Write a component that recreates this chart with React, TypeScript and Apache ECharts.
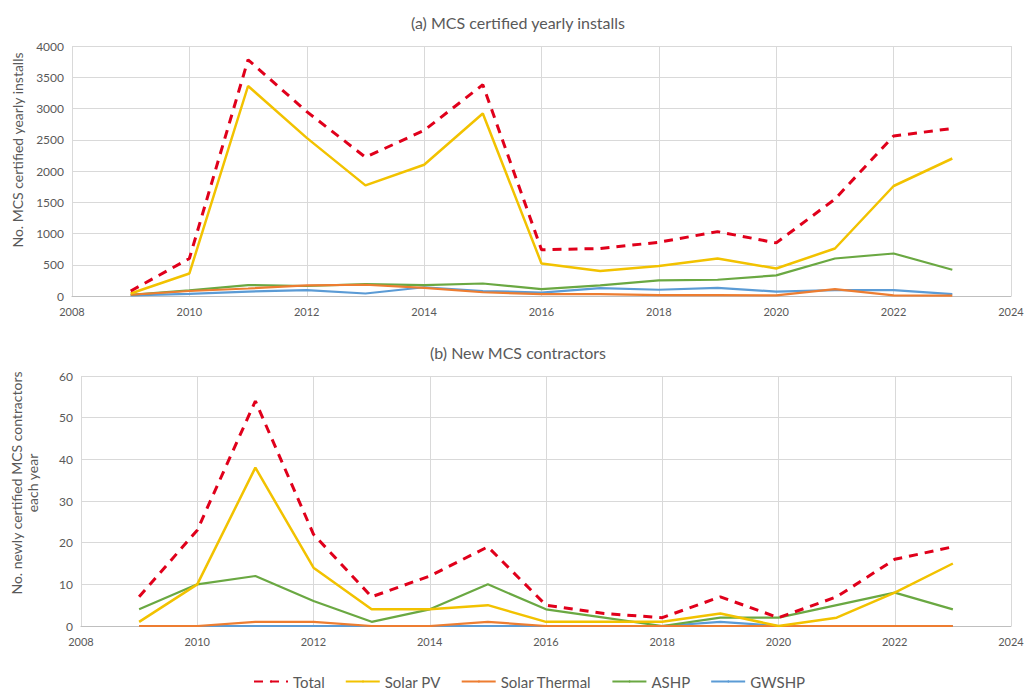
import React, { useEffect, useRef } from "react";
import * as echarts from "echarts";

// Years shared by both panels
const years = [2009, 2010, 2011, 2012, 2013, 2014, 2015, 2016, 2017, 2018, 2019, 2020, 2021, 2022, 2023];

// (a) MCS certified yearly installs
const installsTotal = [80, 600, 3780, 2950, 2220, 2650, 3380, 740, 760, 860, 1030, 850, 1550, 2560, 2680];
const installsSolarPV = [40, 360, 3360, 2530, 1770, 2100, 2920, 520, 400, 480, 600, 440, 760, 1760, 2200];
const installsSolarThermal = [20, 80, 120, 170, 180, 130, 60, 30, 30, 15, 15, 10, 110, 10, 5];
const installsASHP = [20, 90, 175, 160, 190, 175, 200, 110, 170, 250, 260, 330, 600, 680, 420];
const installsGWSHP = [10, 35, 70, 95, 40, 140, 80, 55, 125, 100, 130, 70, 95, 95, 30];

// (b) New MCS contractors
const contractorsTotal = [7, 23, 54, 22, 7, 12, 19, 5, 3, 2, 7, 2, 7, 16, 19];
const contractorsSolarPV = [1, 10, 38, 14, 4, 4, 5, 1, 1, 1, 3, 0, 2, 8, 15];
const contractorsSolarThermal = [0, 0, 1, 1, 0, 0, 1, 0, 0, 0, 0, 0, 0, 0, 0];
const contractorsASHP = [4, 10, 12, 6, 1, 4, 10, 4, 2, 0, 2, 2, 5, 8, 4];
const contractorsGWSHP = [0, 0, 0, 0, 0, 0, 0, 0, 0, 0, 1, 0, 0, 0, 0];

const seriesNames = ["Total", "Solar PV", "Solar Thermal", "ASHP", "GWSHP"];
const seriesColors = ["#E0001B", "#F2C200", "#ED7D31", "#6AA842", "#5B9BD5"];

const FONT = "Lato, 'Noto Sans', sans-serif";
const TEXT = "#595959";

// legend glyphs: two short dashes for Total, a thin bar for the rest
const DASH_ICON = "path://M0,0h12v3h-12z M19,0h12v3h-12z";
const LINE_ICON = "rect";

function pairs(values: number[]) {
  return values.map((v, i) => [years[i], v]);
}

export default function App() {
  const ref = useRef<HTMLDivElement>(null);

  useEffect(() => {
    if (!ref.current) return;
    const chart = echarts.init(ref.current, undefined, { renderer: "svg" });

    const panels = [
      [installsTotal, installsSolarPV, installsSolarThermal, installsASHP, installsGWSHP],
      [contractorsTotal, contractorsSolarPV, contractorsSolarThermal, contractorsASHP, contractorsGWSHP],
    ];

    const series: any[] = [];
    panels.forEach((panel, p) => {
      // draw order: small series first, Total on top
      [4, 2, 3, 1, 0].forEach((k) => {
        series.push({
          name: seriesNames[k],
          type: "line",
          xAxisIndex: p,
          yAxisIndex: p,
          data: pairs(panel[k]),
          symbol: "none",
          legendIcon: k === 0 ? DASH_ICON : LINE_ICON,
          z: 10 - k,
          lineStyle: {
            color: seriesColors[k],
            width: k === 0 ? 3 : k === 1 ? 2.5 : 2.2,
            type: k === 0 ? [9, 7] : "solid",
          },
          itemStyle: { color: seriesColors[k] },
        });
      });
    });

    const xAxisCommon = {
      type: "value",
      min: 2008,
      max: 2024,
      interval: 2,
      axisLine: { show: true, lineStyle: { color: "#BFBFBF" } },
      axisTick: { show: false },
      axisLabel: { color: TEXT, fontFamily: FONT, fontSize: 11, margin: 10, formatter: (v: number) => String(v) },
      splitLine: { show: true, lineStyle: { color: "#D9D9D9" } },
    };

    const yAxisCommon = {
      type: "value",
      nameLocation: "middle",
      axisLine: { show: false },
      axisTick: { show: false },
      axisLabel: { color: TEXT, fontFamily: FONT, fontSize: 12, margin: 8, formatter: (v: number) => String(v) },
      splitLine: { show: true, lineStyle: { color: "#D9D9D9" } },
    };

    chart.setOption({
      animation: false,
      backgroundColor: "#ffffff",
      title: [
        {
          text: "(a) MCS certified yearly installs",
          left: "center",
          top: 9,
          textStyle: { color: TEXT, fontFamily: FONT, fontSize: 16, fontWeight: "normal" },
        },
        {
          text: "(b) New MCS contractors",
          left: "center",
          top: 339,
          textStyle: { color: TEXT, fontFamily: FONT, fontSize: 16, fontWeight: "normal" },
        },
      ],
      legend: {
        data: seriesNames,
        bottom: 2,
        left: 248,
        itemWidth: 34,
        itemHeight: 2.5,
        itemGap: 20,
        textStyle: { color: TEXT, fontFamily: FONT, fontSize: 15 },
      },
      grid: [
        { left: 72, right: 25, top: 46, height: 250 },
        { left: 75, right: 25, top: 376, height: 250 },
      ],
      xAxis: [
        { ...xAxisCommon, gridIndex: 0 },
        { ...xAxisCommon, gridIndex: 1 },
      ],
      yAxis: [
        {
          ...yAxisCommon,
          gridIndex: 0,
          min: 0,
          max: 4000,
          interval: 500,
          name: "No. MCS certified yearly installs",
          nameGap: 48,
          nameTextStyle: { color: TEXT, fontFamily: FONT, fontSize: 14, padding: [0, 0, 0, 42] },
        },
        {
          ...yAxisCommon,
          gridIndex: 1,
          min: 0,
          max: 60,
          interval: 10,
          name: "No. newly certified MCS contractors\neach year",
          nameGap: 41,
          nameTextStyle: { color: TEXT, fontFamily: FONT, fontSize: 14, lineHeight: 16, padding: [0, 0, 0, 36] },
        },
      ],
      series,
    });

    return () => chart.dispose();
  }, []);

  return (
    <div
      ref={ref}
      style={{ position: "absolute", left: 0, top: 0, width: 1036, height: 696, background: "#fff" }}
    />
  );
}
